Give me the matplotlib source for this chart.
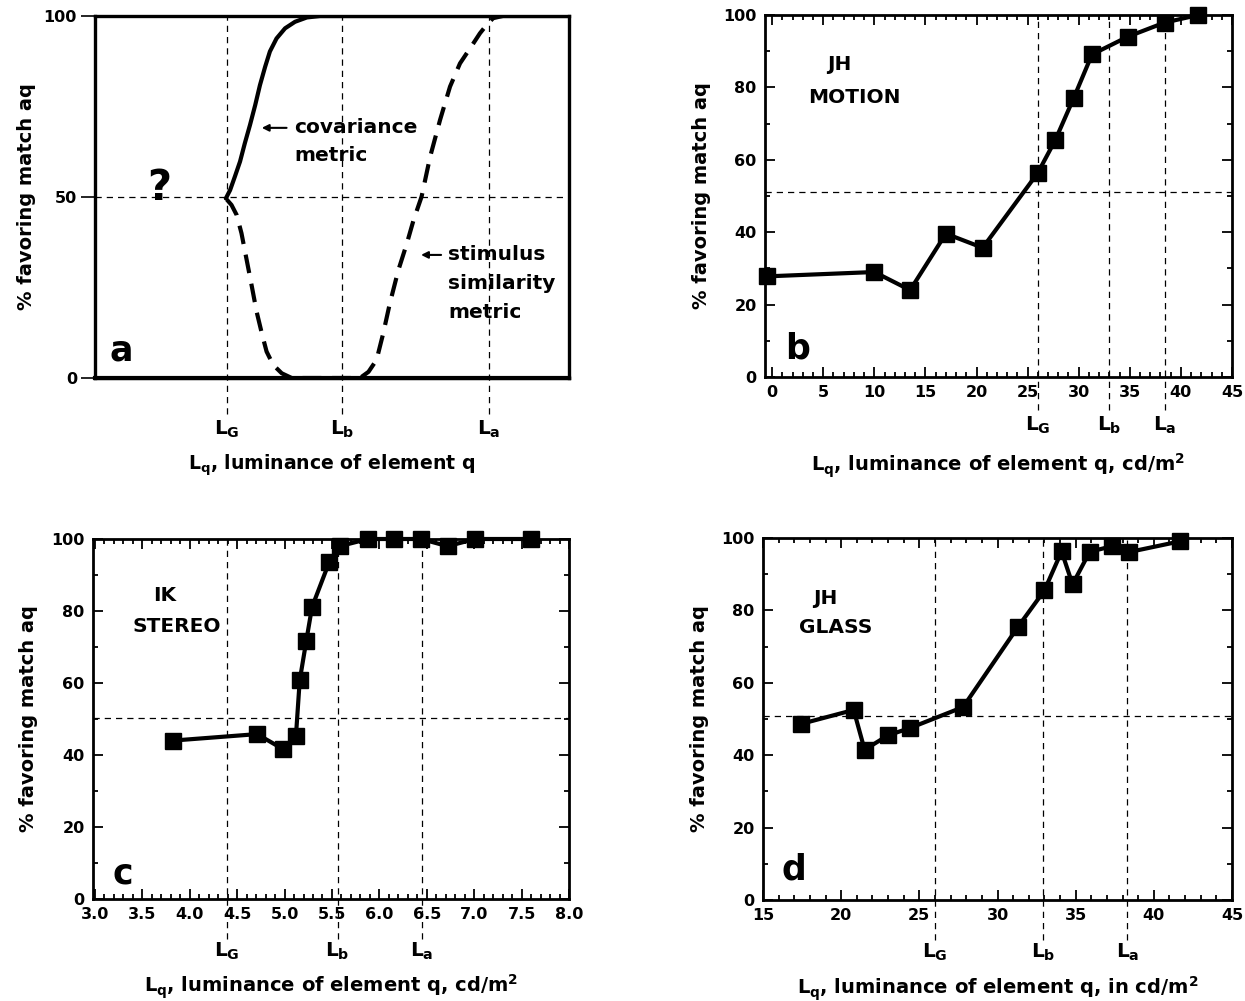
import matplotlib
matplotlib.use("Agg")
import matplotlib.pyplot as plt
from matplotlib.ticker import MultipleLocator

plt.rcParams['font.family'] = ['DejaVu Sans']
plt.rcParams['font.weight'] = 'bold'
plt.rcParams['axes.labelweight'] = 'bold'
plt.rcParams['mathtext.fontset'] = 'custom'
plt.rcParams['mathtext.rm'] = 'DejaVu Sans:bold'
plt.rcParams['mathtext.it'] = 'DejaVu Sans:bold'
plt.rcParams['mathtext.bf'] = 'DejaVu Sans:bold'

# ---------------- data ----------------
# panel a (schematic, arbitrary luminance units 0..100)
a_refs = [27.8, 52.1, 83.1]          # L_G, L_b, L_a
a_cov_x = [27.6, 28.5, 29.5, 30.6, 31.6, 32.7, 33.8, 34.8, 35.9, 36.9, 38.3,
           40.1, 42.2, 44.7, 47.5, 100]
a_cov_y = [49.6, 51.9, 55.6, 59.8, 64.8, 69.9, 75.4, 80.9, 86.0, 90.2, 93.8,
           96.6, 98.4, 99.6, 100, 100]
a_sim_x = [27.8, 28.8, 29.9, 30.9, 32.0, 33.1, 34.1, 35.2, 36.2, 37.6, 39.4, 41.5,
           55.9, 57.7, 59.4, 60.8, 62.2, 64.0, 65.8, 67.2, 68.9, 70.7, 72.8, 74.9,
           77.0, 79.8, 81.2, 82.6, 84.0, 86.0]
a_sim_y = [49.3, 47.8, 45.0, 40.0, 32.6, 25.2, 18.3, 12.3, 7.3, 3.6, 1.3, 0,
           0, 1.7, 5.0, 12.3, 20.6, 29.8, 37.2, 43.6, 50.1, 61.1, 71.3, 80.5,
           86.9, 92.4, 95.2, 97.5, 99.4, 100]

# panel b  JH MOTION
b_x = [-0.5, 10, 13.5, 17, 20.6, 26, 27.7, 29.5, 31.3, 34.8, 38.4, 41.7]
b_y = [27.8, 29, 24, 39.6, 35.7, 56.4, 65.4, 77, 89.1, 94, 97.9, 100]
b_refs = [26.0, 33.0, 38.4]
b_half = 51

# panel c  IK STEREO
c_x = [3.82, 4.71, 4.98, 5.12, 5.16, 5.23, 5.29, 5.47, 5.58, 5.88, 6.15, 6.44, 6.72, 7.01, 7.60]
c_y = [44, 45.8, 41.7, 45.2, 60.7, 71.8, 81.1, 93.5, 98, 100, 100, 100, 98, 100, 100]
c_refs = [4.39, 5.56, 6.45]
c_half = 50.3

# panel d  JH GLASS
d_x = [17.4, 20.8, 21.5, 23.0, 24.4, 27.8, 31.3, 33.0, 34.1, 34.8, 35.9, 37.3, 38.4, 41.7]
d_y = [48.6, 52.5, 41.5, 45.5, 47.5, 53.3, 75.4, 85.5, 96.3, 87.2, 96.2, 97.7, 96.1, 99.1]
d_refs = [26.0, 32.9, 38.3]
d_half = 50.7

ref_labels = ['$L_G$', '$L_b$', '$L_a$']
ylabel = '% favoring match aq'

W, H = 1245, 1001
fig = plt.figure(figsize=(W / 100, H / 100), dpi=100)


def box(l, t, r, b):
    return [l / W, 1 - b / H, (r - l) / W, (b - t) / H]


axa = fig.add_axes(box(95, 16, 569, 378))
axb = fig.add_axes(box(765, 15, 1232, 377))
axc = fig.add_axes(box(93, 539, 569, 899))
axd = fig.add_axes(box(763, 538, 1232, 900))

thin = dict(color='k', lw=0.9, ls=(0, (5, 4)), clip_on=False, zorder=1)
FS = 14.5     # annotation / label size
XS = 14       # x-axis title size
TS = 11.5     # tick label size

# ---------------- panel a ----------------
axa.set_xlim(0, 100)
axa.set_ylim(0, 100)
for s in axa.spines.values():
    s.set_linewidth(2.4)
axa.set_xticks([])
axa.set_yticks([0, 50, 100])
axa.tick_params(axis='y', direction='out', length=10, width=1.2, labelsize=TS, pad=3)
axa.axhline(50, **thin)
for xr, lab in zip(a_refs, ref_labels):
    axa.plot([xr, xr], [-10, 100], **thin)
    axa.text(xr, -11.3, lab, ha='center', va='top', fontsize=FS)
axa.plot(a_cov_x, a_cov_y, color='k', lw=3.0, solid_capstyle='round', zorder=3)
axa.plot(a_sim_x, a_sim_y, color='k', lw=3.0, ls=(0, (4.5, 2.6)), zorder=3)
axa.plot([0, 100], [0, 0], color='k', lw=3.0, clip_on=False, zorder=3)
axa.text(42.0, 69.1, 'covariance', ha='left', va='center', fontsize=FS)
axa.text(42.0, 61.6, 'metric', ha='left', va='center', fontsize=FS)
axa.annotate('', xy=(34.6, 69.1), xytext=(41.0, 69.1),
             arrowprops=dict(arrowstyle='-|>', color='k', lw=1.5, mutation_scale=10))
axa.text(74.5, 34.0, 'stimulus', ha='left', va='center', fontsize=FS)
axa.text(74.5, 26.2, 'similarity', ha='left', va='center', fontsize=FS)
axa.text(74.5, 18.2, 'metric', ha='left', va='center', fontsize=FS)
axa.annotate('', xy=(68.2, 34.0), xytext=(73.6, 34.0),
             arrowprops=dict(arrowstyle='-|>', color='k', lw=1.5, mutation_scale=10))
axa.text(13.5, 52.5, '?', ha='center', va='center', fontsize=30)
axa.text(5.5, 7.5, 'a', ha='center', va='center', fontsize=25)
axa.set_ylabel(ylabel, fontsize=FS - 0.5)
axa.yaxis.set_label_coords(-0.125, 0.5)
axa.set_xlabel('$L_q$, luminance of element q', fontsize=XS - 0.4)
axa.xaxis.set_label_coords(0.5, -0.205)


def data_panel(ax, x, y, refs, half, xlim, xmaj, xmin, xlabel, ref_low, label_y,
               tag, tag_xy, name1, name1_xy, name2, name2_xy, fmt=None):
    ax.set_xlim(*xlim)
    ax.set_ylim(0, 100)
    for s in ax.spines.values():
        s.set_linewidth(2.0)
    ax.xaxis.set_major_locator(MultipleLocator(xmaj))
    ax.xaxis.set_minor_locator(MultipleLocator(xmin))
    ax.yaxis.set_major_locator(MultipleLocator(20))
    ax.yaxis.set_minor_locator(MultipleLocator(10))
    ax.tick_params(which='both', direction='in', top=True, right=True, width=1.3)
    ax.tick_params(which='major', length=7, labelsize=TS)
    ax.tick_params(which='minor', length=3.5)
    ax.tick_params(axis='x', pad=6)
    ax.tick_params(axis='y', pad=6)
    if fmt:
        ticks = [t for t in ax.get_xticks() if xlim[0] - 1e-6 <= t <= xlim[1] + 1e-6]
        ax.set_xticks(ticks)
        ax.set_xticklabels([fmt.format(v) for v in ticks])
        ax.set_xlim(*xlim)
    ax.axhline(half, **thin)
    for xr, lab in zip(refs, ref_labels):
        ax.plot([xr, xr], [ref_low, 100], **thin)
        ax.text(xr, label_y, lab, ha='center', va='top', fontsize=FS)
    ax.plot(x, y, color='k', lw=3.0, marker='s', ms=11, clip_on=False, zorder=4)
    ax.text(*tag_xy, tag, ha='center', va='center', fontsize=25)
    ax.text(*name1_xy, name1, ha='center', va='center', fontsize=FS)
    ax.text(*name2_xy, name2, ha='left', va='center', fontsize=FS)
    ax.set_ylabel(ylabel, fontsize=FS - 0.5)
    ax.yaxis.set_label_coords(-0.115, 0.5)
    ax.set_xlabel(xlabel, fontsize=XS)
    ax.xaxis.set_label_coords(0.5, -0.205)


data_panel(axb, b_x, b_y, b_refs, b_half, (-0.7, 45), 5, 1,
           '$L_q$, luminance of element q, cd/m$^2$', -9, -10.5,
           'b', (2.5, 8), 'JH', (6.6, 86.2), 'MOTION', (3.5, 77.3))
data_panel(axc, c_x, c_y, c_refs, c_half, (2.98, 8.0), 0.5, 0.1,
           '$L_q$, luminance of element q, cd/m$^2$', -11, -11.5,
           'c', (3.29, 7.2), 'IK', (3.735, 84.4), 'STEREO', (3.4, 75.6), fmt='{:.1f}')
data_panel(axd, d_x, d_y, d_refs, d_half, (15, 45), 5, 1,
           '$L_q$, luminance of element q, in cd/m$^2$', -11, -11.5,
           'd', (17.0, 8.3), 'JH', (18.97, 83.4), 'GLASS', (17.3, 75.4))

fig.savefig('out.png', dpi=100)
